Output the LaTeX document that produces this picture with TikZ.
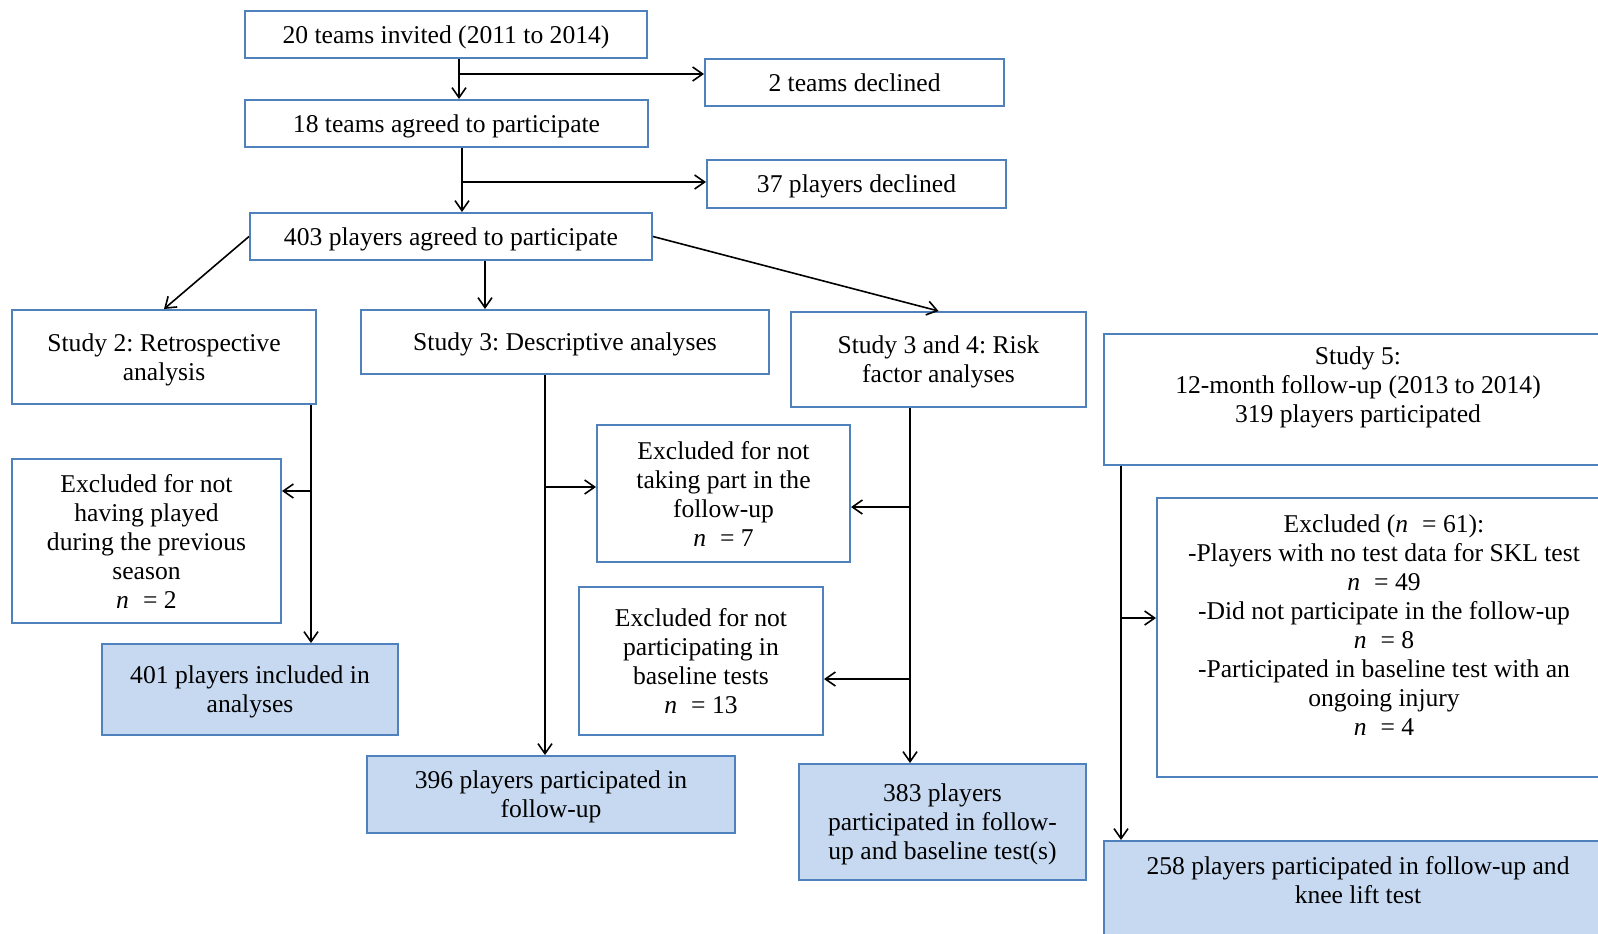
\documentclass[tikz,border=0pt]{standalone}
\usepackage{fontspec}
\setmainfont{Liberation Serif}
\usetikzlibrary{arrows.meta}
\definecolor{bord}{HTML}{4F81BD}
\definecolor{fillb}{HTML}{C6D9F1}
\tikzset{
  box/.style={draw=bord, line width=1pt, align=center, inner sep=0pt, text depth=0pt},
  res/.style={box, fill=fillb},
  arr/.style={-{Straight Barb[length=5pt,width=7pt]}, line width=0.8pt},
  ln/.style={line width=0.8pt}
}
\newcommand{\nn}[1]{\textit{n}\hspace{0.55em}= #1}
\frenchspacing
\begin{document}
\begin{tikzpicture}[x=0.5pt,y=-0.5pt,font=\fontsize{12.8pt}{14.5pt}\selectfont]
\clip (0,0) rectangle (1598,933);
% top chain
\node[box, minimum width=201pt, minimum height=23.5pt] (A) at (446,34.5) {20 teams invited (2011 to 2014)};
\node[box, minimum width=149.5pt, minimum height=23.5pt] (D2) at (854.5,82.5) {2 teams declined};
\node[box, minimum width=201.5pt, minimum height=23.5pt] (B) at (446.5,123.5) {18 teams agreed to participate};
\node[box, minimum width=149.5pt, minimum height=24pt] (D37) at (856.5,184) {37 players declined};
\node[box, minimum width=201pt, minimum height=23.5pt] (C) at (451,236.5) {403 players agreed to participate};
% studies
\node[box, minimum width=152pt, minimum height=47pt] (S2) at (164,357) {Study 2: Retrospective\\analysis};
\node[box, minimum width=204pt, minimum height=32pt] (S3) at (565,342) {Study 3: Descriptive analyses};
\node[box, minimum width=147.5pt, minimum height=47.5pt] (S34) at (938.5,359.5) {Study 3 and 4: Risk\\factor analyses};
\node[box, minimum width=254pt, minimum height=65.5pt] (S5) at (1358,399.5) {Study 5:\\12-month follow-up (2013 to 2014)\\319 players participated\\\mbox{}};
% exclusions
\node[box, minimum width=134.5pt, minimum height=82pt] (E2) at (146.5,541) {Excluded for not\\having played\\during the previous\\season\\\nn{2}};
\node[box, minimum width=126.5pt, minimum height=68.5pt] (E7) at (723.5,493.5) {Excluded for not\\taking part in the\\follow-up\\\nn{7}};
\node[box, minimum width=122pt, minimum height=74pt] (E13) at (701,661) {Excluded for not\\participating in\\baseline tests\\\nn{13}};
\node[box, minimum width=227pt, minimum height=139.5pt] (E61) at (1384,637.5) {Excluded (\nn{61}):\\-Players with no test data for SKL test\\\nn{49}\\-Did not participate in the follow-up\\\nn{8}\\-Participated in baseline test with an\\ongoing injury\\\nn{4}\\[-2pt]\mbox{}};
% results
\node[res, minimum width=148pt, minimum height=45.5pt] (R401) at (250,689.5) {401 players included in\\analyses};
\node[res, minimum width=184pt, minimum height=38.5pt] (R396) at (551,794.5) {396 players participated in\\follow-up};
\node[res, minimum width=143.5pt, minimum height=58pt] (R383) at (942.5,822) {383 players\\participated in follow-\\up and baseline test(s)};
\node[res, minimum width=254pt, minimum height=53pt] (R258) at (1358,894) {258 players participated in follow-up and\\knee lift test\\\mbox{}};
% junction coordinates
\coordinate (xa) at (459,74);
\coordinate (xb) at (462,182);
\coordinate (xc) at (485,0);
\coordinate (x2) at (311,491);
\coordinate (x3) at (545,487);
\coordinate (x34a) at (910,507);
\coordinate (x34b) at (910,679);
\coordinate (x5) at (1121,618);
% connectors
\draw[arr] (A.south -| xa) -- (B.north -| xa);
\draw[arr] (xa) -- (xa -| D2.west);
\draw[arr] (B.south -| xb) -- (C.north -| xb);
\draw[arr] (xb) -- (xb -| D37.west);
\draw[arr] (C.west) -- (S2.north);
\draw[arr] (C.south -| xc) -- (S3.north -| xc);
\draw[arr] (C.east) -- (S34.north);
\draw[arr] (S2.south -| x2) -- (R401.north -| x2);
\draw[arr] (x2) -- (x2 -| E2.east);
\draw[arr] (S3.south -| x3) -- (R396.north -| x3);
\draw[arr] (x3) -- (x3 -| E7.west);
\draw[arr] (S34.south -| x34a) -- (R383.north -| x34a);
\draw[arr] (x34a) -- (x34a -| E7.east);
\draw[arr] (x34b) -- (x34b -| E13.east);
\draw[arr] (S5.south -| x5) -- (R258.north -| x5);
\draw[arr] (x5) -- (x5 -| E61.west);
\end{tikzpicture}
\end{document}
